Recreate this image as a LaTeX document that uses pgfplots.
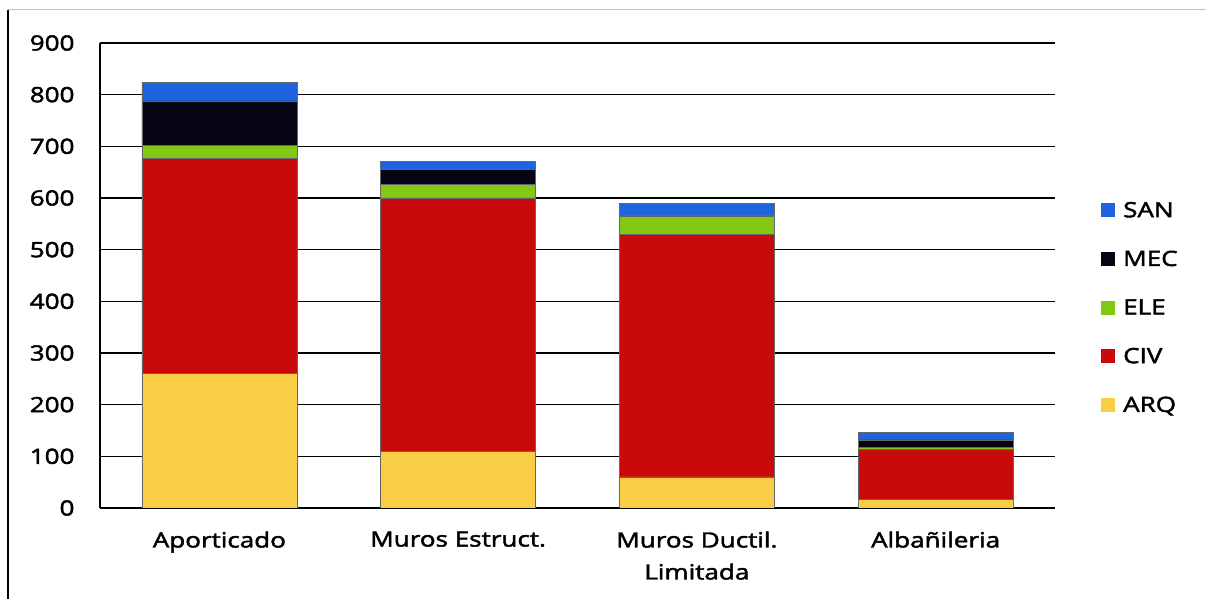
\documentclass[border=0pt]{standalone}
\usepackage{fontspec}
\setmainfont{Open Sans}[FakeStretch=1.24, FakeBold=2.2]
\usepackage{pgfplots}
\pgfplotsset{compat=1.18}
\definecolor{cSAN}{RGB}{30,100,225}
\definecolor{cMEC}{RGB}{5,5,20}
\definecolor{cELE}{RGB}{130,200,20}
\definecolor{cCIV}{RGB}{200,10,10}
\definecolor{cARQ}{RGB}{250,205,70}
\begin{document}
\begin{tikzpicture}[x=1pt,y=1pt]
\path[use as bounding box] (0,0) rectangle (1206,599);
\draw[black, line width=1.5pt] (8,0) -- (8,589);
\draw[gray!50, line width=1pt] (8,589) -- (1206,589);
\begin{axis}[
  at={(100pt,91pt)}, anchor=south west,
  scale only axis, width=955pt, height=465pt,
  ybar stacked, bar width=0.65,
  xmin=-0.5, xmax=3.5, ymin=0, ymax=900,
  xtick={0,1,2,3},
  xticklabels={Aporticado, Muros Estruct., {Muros Ductil.\\Limitada}, Albañileria},
  ytick={0,100,...,900},
  ymajorgrids, grid style={black, line width=1.3pt},
  axis x line*=bottom, axis y line*=left,
  axis line style={-, black, line width=1.3pt},
  x axis line style={draw=none},
  major tick length=0pt, tick style={draw=none},
  /pgf/number format/assume math mode=true,
  font=\fontsize{21}{25}\selectfont,
  xticklabel style={align=center, yshift=-20pt, font=\fontsize{21}{32}\selectfont},
  yticklabel style={xshift=-22pt},
  legend style={draw=none, fill=none, at={(1.045,0.667)}, anchor=north west,
    row sep=28pt, font=\fontsize{21}{25}\selectfont},
  legend cell align=left,
  reverse legend,
  legend image code/.code={\path[#1, draw=none] (0pt,-7pt) rectangle (14pt,7pt);},
  every axis plot/.append style={draw=black!60, line width=0.5pt},
]
\addplot[fill=cARQ] coordinates {(0,260) (1,110) (2,60) (3,16)};
\addplot[fill=cCIV] coordinates {(0,417) (1,490) (2,470) (3,97)};
\addplot[fill=cELE] coordinates {(0,25) (1,27) (2,34) (3,4)};
\addplot[fill=cMEC] coordinates {(0,86) (1,28) (2,2) (3,15)};
\addplot[fill=cSAN] coordinates {(0,36) (1,16) (2,24) (3,15)};
\legend{\hspace{6pt}ARQ,\hspace{6pt}CIV,\hspace{6pt}ELE,\hspace{6pt}MEC,\hspace{6pt}SAN}
\end{axis}
\end{tikzpicture}
\end{document}
